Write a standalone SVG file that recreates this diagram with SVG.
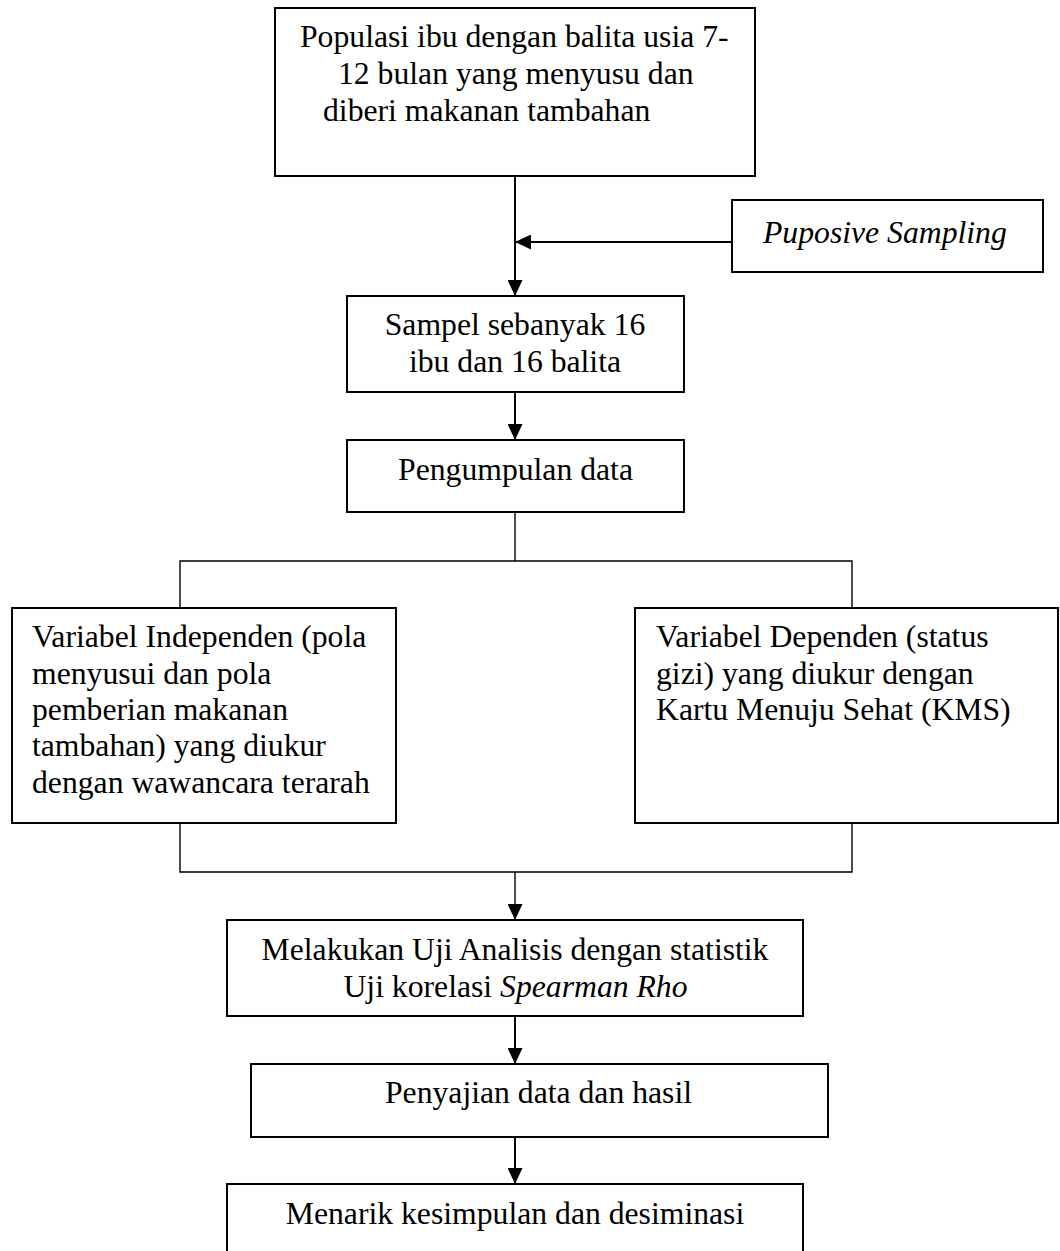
<svg xmlns="http://www.w3.org/2000/svg" width="1060" height="1251" viewBox="0 0 1060 1251">
<style>
.box{fill:#fff;stroke:#000;stroke-width:2}
.t{font-family:"Liberation Serif","Times New Roman",serif;font-size:31.7px;fill:#000}
.c{text-anchor:middle}
.i{font-style:italic}
.ln{fill:none;stroke:#000;stroke-width:2}
.thin{fill:none;stroke:#000;stroke-width:1.4}
</style>
<defs>
<marker id="arr" viewBox="0 0 16 15" markerWidth="16" markerHeight="15" refX="16" refY="7.5" orient="auto" markerUnits="userSpaceOnUse">
<path d="M0,0 L16,7.5 L0,15 Z" fill="#000"/>
</marker>
</defs>
<rect width="1060" height="1251" fill="#fff"/>
<g id="connectors">
<line class="ln" x1="515" y1="176" x2="515" y2="296" marker-end="url(#arr)"/>
<line class="ln" x1="732" y1="242" x2="515" y2="242" marker-end="url(#arr)"/>
<line class="ln" x1="515" y1="392" x2="515" y2="440" marker-end="url(#arr)"/>
<polyline class="thin" points="515,512 515,561"/>
<polyline class="thin" points="180,608 180,561 852,561 852,608"/>
<polyline class="thin" points="180,823 180,872 852,872 852,823"/>
<line class="thin" x1="515" y1="872" x2="515" y2="920" marker-end="url(#arr)"/>
<line class="ln" x1="515" y1="1016" x2="515" y2="1064" marker-end="url(#arr)"/>
<line class="ln" x1="515" y1="1137" x2="515" y2="1184" marker-end="url(#arr)"/>
</g>
<g id="populasi">
<rect class="box" x="275" y="8" width="480" height="168"/>
<text class="t" x="300" y="47">Populasi ibu dengan balita usia 7-</text>
<text class="t" x="338" y="84">12 bulan yang menyusu dan</text>
<text class="t" x="323" y="121">diberi makanan tambahan</text>
</g>
<g id="puposive">
<rect class="box" x="732" y="200" width="311" height="72"/>
<text class="t i" x="763" y="243">Puposive Sampling</text>
</g>
<g id="sampel">
<rect class="box" x="347" y="296" width="337" height="96"/>
<text class="t c" x="515" y="335">Sampel sebanyak 16</text>
<text class="t c" x="515" y="372">ibu dan 16 balita</text>
</g>
<g id="pengumpulan">
<rect class="box" x="347" y="440" width="337" height="72"/>
<text class="t c" x="515.5" y="480">Pengumpulan data</text>
</g>
<g id="independen">
<rect class="box" x="12" y="608" width="384" height="215"/>
<text class="t" x="32" y="647">Variabel Independen (pola</text>
<text class="t" x="32" y="684">menyusui dan pola</text>
<text class="t" x="32" y="720">pemberian makanan</text>
<text class="t" x="32" y="756">tambahan) yang diukur</text>
<text class="t" x="32" y="793">dengan wawancara terarah</text>
</g>
<g id="dependen">
<rect class="box" x="635" y="608" width="423" height="215"/>
<text class="t" x="656" y="647">Variabel Dependen (status</text>
<text class="t" x="656" y="684">gizi) yang diukur dengan</text>
<text class="t" x="656" y="720">Kartu Menuju Sehat (KMS)</text>
</g>
<g id="analisis">
<rect class="box" x="227" y="920" width="576" height="96"/>
<text class="t c" x="515" y="960">Melakukan Uji Analisis dengan statistik</text>
<text class="t c" x="515.5" y="997">Uji korelasi <tspan class="i">Spearman Rho</tspan></text>
</g>
<g id="penyajian">
<rect class="box" x="251" y="1064" width="577" height="73"/>
<text class="t c" x="538.5" y="1103">Penyajian data dan hasil</text>
</g>
<g id="kesimpulan">
<rect class="box" x="227" y="1184" width="576" height="80"/>
<text class="t c" x="515" y="1224">Menarik kesimpulan dan desiminasi</text>
</g>
</svg>
